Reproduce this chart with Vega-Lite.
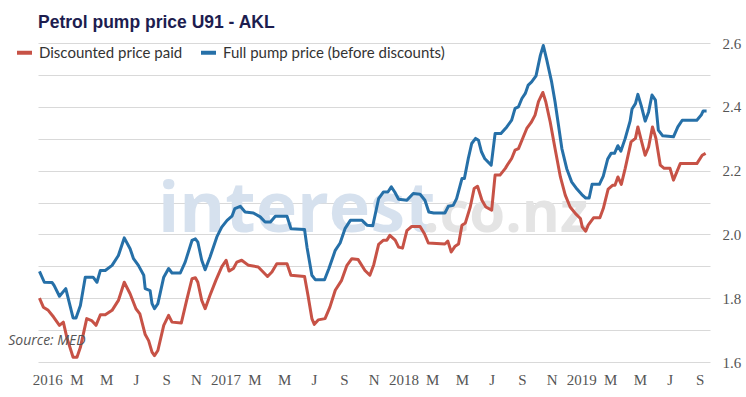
{
  "$schema": "https://vega.github.io/schema/vega-lite/v6.json",
  "width": 672,
  "height": 319,
  "autosize": {"type": "none"},
  "padding": {"left": 38, "top": 43, "right": 36, "bottom": 35},
  "background": "white",
  "config": {"view": {"stroke": null}},
  "title": {"text": "Petrol pump price U91 - AKL", "anchor": "start", "frame": "group", "font": "Liberation Sans", "fontSize": 17.5, "fontWeight": "bold", "color": "#1d1d4f", "offset": 5},
  "datasets": {
    "notes": [
      {"date": "2015-10-13", "value": 1.652, "label": "Source: MED"}
    ],
    "wm1": [{"date": "2016-08-15", "value": 2.007, "label": "interest"}],
    "wm2": [{"date": "2018-02-10", "value": 2.007, "label": ".co.nz"}],
    "prices": [
      {"date": "2015-12-16", "series": "Full pump price (before discounts)", "value": 1.884},
      {"date": "2015-12-26", "series": "Full pump price (before discounts)", "value": 1.85},
      {"date": "2016-01-11", "series": "Full pump price (before discounts)", "value": 1.849},
      {"date": "2016-01-15", "series": "Full pump price (before discounts)", "value": 1.84},
      {"date": "2016-01-26", "series": "Full pump price (before discounts)", "value": 1.806},
      {"date": "2016-02-08", "series": "Full pump price (before discounts)", "value": 1.83},
      {"date": "2016-02-23", "series": "Full pump price (before discounts)", "value": 1.738},
      {"date": "2016-02-29", "series": "Full pump price (before discounts)", "value": 1.738},
      {"date": "2016-03-09", "series": "Full pump price (before discounts)", "value": 1.777},
      {"date": "2016-03-19", "series": "Full pump price (before discounts)", "value": 1.866},
      {"date": "2016-04-04", "series": "Full pump price (before discounts)", "value": 1.866},
      {"date": "2016-04-12", "series": "Full pump price (before discounts)", "value": 1.85},
      {"date": "2016-04-19", "series": "Full pump price (before discounts)", "value": 1.887},
      {"date": "2016-04-29", "series": "Full pump price (before discounts)", "value": 1.887},
      {"date": "2016-05-13", "series": "Full pump price (before discounts)", "value": 1.903},
      {"date": "2016-05-26", "series": "Full pump price (before discounts)", "value": 1.934},
      {"date": "2016-06-07", "series": "Full pump price (before discounts)", "value": 1.989},
      {"date": "2016-06-19", "series": "Full pump price (before discounts)", "value": 1.955},
      {"date": "2016-06-26", "series": "Full pump price (before discounts)", "value": 1.924},
      {"date": "2016-07-06", "series": "Full pump price (before discounts)", "value": 1.903},
      {"date": "2016-07-17", "series": "Full pump price (before discounts)", "value": 1.872},
      {"date": "2016-07-20", "series": "Full pump price (before discounts)", "value": 1.83},
      {"date": "2016-07-30", "series": "Full pump price (before discounts)", "value": 1.824},
      {"date": "2016-08-03", "series": "Full pump price (before discounts)", "value": 1.783},
      {"date": "2016-08-08", "series": "Full pump price (before discounts)", "value": 1.767},
      {"date": "2016-08-15", "series": "Full pump price (before discounts)", "value": 1.783},
      {"date": "2016-08-27", "series": "Full pump price (before discounts)", "value": 1.866},
      {"date": "2016-09-06", "series": "Full pump price (before discounts)", "value": 1.893},
      {"date": "2016-09-13", "series": "Full pump price (before discounts)", "value": 1.879},
      {"date": "2016-09-30", "series": "Full pump price (before discounts)", "value": 1.879},
      {"date": "2016-10-10", "series": "Full pump price (before discounts)", "value": 1.913},
      {"date": "2016-10-24", "series": "Full pump price (before discounts)", "value": 1.981},
      {"date": "2016-10-31", "series": "Full pump price (before discounts)", "value": 1.986},
      {"date": "2016-11-05", "series": "Full pump price (before discounts)", "value": 1.976},
      {"date": "2016-11-13", "series": "Full pump price (before discounts)", "value": 1.919},
      {"date": "2016-11-20", "series": "Full pump price (before discounts)", "value": 1.889},
      {"date": "2016-11-30", "series": "Full pump price (before discounts)", "value": 1.929},
      {"date": "2016-12-14", "series": "Full pump price (before discounts)", "value": 1.992},
      {"date": "2016-12-24", "series": "Full pump price (before discounts)", "value": 2.023},
      {"date": "2017-01-04", "series": "Full pump price (before discounts)", "value": 2.044},
      {"date": "2017-01-14", "series": "Full pump price (before discounts)", "value": 2.057},
      {"date": "2017-01-20", "series": "Full pump price (before discounts)", "value": 2.081},
      {"date": "2017-01-31", "series": "Full pump price (before discounts)", "value": 2.088},
      {"date": "2017-02-10", "series": "Full pump price (before discounts)", "value": 2.07},
      {"date": "2017-02-27", "series": "Full pump price (before discounts)", "value": 2.067},
      {"date": "2017-03-13", "series": "Full pump price (before discounts)", "value": 2.055},
      {"date": "2017-03-23", "series": "Full pump price (before discounts)", "value": 2.039},
      {"date": "2017-04-03", "series": "Full pump price (before discounts)", "value": 2.039},
      {"date": "2017-04-13", "series": "Full pump price (before discounts)", "value": 2.057},
      {"date": "2017-05-07", "series": "Full pump price (before discounts)", "value": 2.057},
      {"date": "2017-05-15", "series": "Full pump price (before discounts)", "value": 2.018},
      {"date": "2017-06-12", "series": "Full pump price (before discounts)", "value": 2.015},
      {"date": "2017-06-17", "series": "Full pump price (before discounts)", "value": 1.96},
      {"date": "2017-06-27", "series": "Full pump price (before discounts)", "value": 1.872},
      {"date": "2017-07-04", "series": "Full pump price (before discounts)", "value": 1.858},
      {"date": "2017-07-23", "series": "Full pump price (before discounts)", "value": 1.858},
      {"date": "2017-08-01", "series": "Full pump price (before discounts)", "value": 1.893},
      {"date": "2017-08-14", "series": "Full pump price (before discounts)", "value": 1.95},
      {"date": "2017-08-24", "series": "Full pump price (before discounts)", "value": 1.973},
      {"date": "2017-09-03", "series": "Full pump price (before discounts)", "value": 2.018},
      {"date": "2017-09-14", "series": "Full pump price (before discounts)", "value": 2.044},
      {"date": "2017-10-08", "series": "Full pump price (before discounts)", "value": 2.044},
      {"date": "2017-10-18", "series": "Full pump price (before discounts)", "value": 2.029},
      {"date": "2017-10-30", "series": "Full pump price (before discounts)", "value": 2.027},
      {"date": "2017-11-11", "series": "Full pump price (before discounts)", "value": 2.112},
      {"date": "2017-11-21", "series": "Full pump price (before discounts)", "value": 2.133},
      {"date": "2017-11-30", "series": "Full pump price (before discounts)", "value": 2.133},
      {"date": "2017-12-07", "series": "Full pump price (before discounts)", "value": 2.149},
      {"date": "2017-12-14", "series": "Full pump price (before discounts)", "value": 2.133},
      {"date": "2017-12-22", "series": "Full pump price (before discounts)", "value": 2.11},
      {"date": "2018-01-08", "series": "Full pump price (before discounts)", "value": 2.107},
      {"date": "2018-01-21", "series": "Full pump price (before discounts)", "value": 2.128},
      {"date": "2018-02-04", "series": "Full pump price (before discounts)", "value": 2.126},
      {"date": "2018-02-14", "series": "Full pump price (before discounts)", "value": 2.107},
      {"date": "2018-02-22", "series": "Full pump price (before discounts)", "value": 2.07},
      {"date": "2018-03-04", "series": "Full pump price (before discounts)", "value": 2.067},
      {"date": "2018-03-27", "series": "Full pump price (before discounts)", "value": 2.067},
      {"date": "2018-04-03", "series": "Full pump price (before discounts)", "value": 2.088},
      {"date": "2018-04-13", "series": "Full pump price (before discounts)", "value": 2.091},
      {"date": "2018-04-20", "series": "Full pump price (before discounts)", "value": 2.112},
      {"date": "2018-05-01", "series": "Full pump price (before discounts)", "value": 2.175},
      {"date": "2018-05-06", "series": "Full pump price (before discounts)", "value": 2.175},
      {"date": "2018-05-14", "series": "Full pump price (before discounts)", "value": 2.238},
      {"date": "2018-05-21", "series": "Full pump price (before discounts)", "value": 2.285},
      {"date": "2018-05-29", "series": "Full pump price (before discounts)", "value": 2.301},
      {"date": "2018-06-04", "series": "Full pump price (before discounts)", "value": 2.295},
      {"date": "2018-06-10", "series": "Full pump price (before discounts)", "value": 2.259},
      {"date": "2018-06-17", "series": "Full pump price (before discounts)", "value": 2.237},
      {"date": "2018-06-30", "series": "Full pump price (before discounts)", "value": 2.217},
      {"date": "2018-07-08", "series": "Full pump price (before discounts)", "value": 2.316},
      {"date": "2018-07-20", "series": "Full pump price (before discounts)", "value": 2.316},
      {"date": "2018-08-01", "series": "Full pump price (before discounts)", "value": 2.337},
      {"date": "2018-08-11", "series": "Full pump price (before discounts)", "value": 2.358},
      {"date": "2018-08-18", "series": "Full pump price (before discounts)", "value": 2.395},
      {"date": "2018-08-25", "series": "Full pump price (before discounts)", "value": 2.4},
      {"date": "2018-09-01", "series": "Full pump price (before discounts)", "value": 2.426},
      {"date": "2018-09-08", "series": "Full pump price (before discounts)", "value": 2.442},
      {"date": "2018-09-14", "series": "Full pump price (before discounts)", "value": 2.468},
      {"date": "2018-09-21", "series": "Full pump price (before discounts)", "value": 2.478},
      {"date": "2018-09-30", "series": "Full pump price (before discounts)", "value": 2.497},
      {"date": "2018-10-09", "series": "Full pump price (before discounts)", "value": 2.562},
      {"date": "2018-10-15", "series": "Full pump price (before discounts)", "value": 2.592},
      {"date": "2018-10-22", "series": "Full pump price (before discounts)", "value": 2.547},
      {"date": "2018-11-01", "series": "Full pump price (before discounts)", "value": 2.478},
      {"date": "2018-11-08", "series": "Full pump price (before discounts)", "value": 2.416},
      {"date": "2018-11-15", "series": "Full pump price (before discounts)", "value": 2.343},
      {"date": "2018-11-22", "series": "Full pump price (before discounts)", "value": 2.269},
      {"date": "2018-12-02", "series": "Full pump price (before discounts)", "value": 2.206},
      {"date": "2018-12-12", "series": "Full pump price (before discounts)", "value": 2.165},
      {"date": "2018-12-23", "series": "Full pump price (before discounts)", "value": 2.142},
      {"date": "2019-01-02", "series": "Full pump price (before discounts)", "value": 2.125},
      {"date": "2019-01-10", "series": "Full pump price (before discounts)", "value": 2.114},
      {"date": "2019-01-17", "series": "Full pump price (before discounts)", "value": 2.114},
      {"date": "2019-01-23", "series": "Full pump price (before discounts)", "value": 2.157},
      {"date": "2019-02-07", "series": "Full pump price (before discounts)", "value": 2.157},
      {"date": "2019-02-15", "series": "Full pump price (before discounts)", "value": 2.183},
      {"date": "2019-02-24", "series": "Full pump price (before discounts)", "value": 2.236},
      {"date": "2019-03-03", "series": "Full pump price (before discounts)", "value": 2.254},
      {"date": "2019-03-10", "series": "Full pump price (before discounts)", "value": 2.254},
      {"date": "2019-03-17", "series": "Full pump price (before discounts)", "value": 2.278},
      {"date": "2019-03-23", "series": "Full pump price (before discounts)", "value": 2.261},
      {"date": "2019-04-01", "series": "Full pump price (before discounts)", "value": 2.301},
      {"date": "2019-04-11", "series": "Full pump price (before discounts)", "value": 2.355},
      {"date": "2019-04-15", "series": "Full pump price (before discounts)", "value": 2.393},
      {"date": "2019-04-22", "series": "Full pump price (before discounts)", "value": 2.41},
      {"date": "2019-04-27", "series": "Full pump price (before discounts)", "value": 2.439},
      {"date": "2019-05-04", "series": "Full pump price (before discounts)", "value": 2.403},
      {"date": "2019-05-12", "series": "Full pump price (before discounts)", "value": 2.355},
      {"date": "2019-05-19", "series": "Full pump price (before discounts)", "value": 2.384},
      {"date": "2019-05-26", "series": "Full pump price (before discounts)", "value": 2.437},
      {"date": "2019-06-02", "series": "Full pump price (before discounts)", "value": 2.421},
      {"date": "2019-06-08", "series": "Full pump price (before discounts)", "value": 2.327},
      {"date": "2019-06-17", "series": "Full pump price (before discounts)", "value": 2.309},
      {"date": "2019-07-09", "series": "Full pump price (before discounts)", "value": 2.306},
      {"date": "2019-07-18", "series": "Full pump price (before discounts)", "value": 2.337},
      {"date": "2019-07-27", "series": "Full pump price (before discounts)", "value": 2.358},
      {"date": "2019-08-26", "series": "Full pump price (before discounts)", "value": 2.358},
      {"date": "2019-09-04", "series": "Full pump price (before discounts)", "value": 2.374},
      {"date": "2019-09-08", "series": "Full pump price (before discounts)", "value": 2.387},
      {"date": "2019-09-15", "series": "Full pump price (before discounts)", "value": 2.387},
      {"date": "2015-12-16", "series": "Discounted price paid", "value": 1.8},
      {"date": "2015-12-24", "series": "Discounted price paid", "value": 1.772},
      {"date": "2016-01-03", "series": "Discounted price paid", "value": 1.762},
      {"date": "2016-01-14", "series": "Discounted price paid", "value": 1.741},
      {"date": "2016-01-26", "series": "Discounted price paid", "value": 1.715},
      {"date": "2016-02-03", "series": "Discounted price paid", "value": 1.725},
      {"date": "2016-02-10", "series": "Discounted price paid", "value": 1.678},
      {"date": "2016-02-23", "series": "Discounted price paid", "value": 1.615},
      {"date": "2016-03-02", "series": "Discounted price paid", "value": 1.615},
      {"date": "2016-03-09", "series": "Discounted price paid", "value": 1.646},
      {"date": "2016-03-22", "series": "Discounted price paid", "value": 1.736},
      {"date": "2016-04-01", "series": "Discounted price paid", "value": 1.73},
      {"date": "2016-04-10", "series": "Discounted price paid", "value": 1.715},
      {"date": "2016-04-19", "series": "Discounted price paid", "value": 1.748},
      {"date": "2016-04-29", "series": "Discounted price paid", "value": 1.748},
      {"date": "2016-05-13", "series": "Discounted price paid", "value": 1.762},
      {"date": "2016-05-26", "series": "Discounted price paid", "value": 1.793},
      {"date": "2016-06-07", "series": "Discounted price paid", "value": 1.85},
      {"date": "2016-06-19", "series": "Discounted price paid", "value": 1.814},
      {"date": "2016-07-01", "series": "Discounted price paid", "value": 1.767},
      {"date": "2016-07-09", "series": "Discounted price paid", "value": 1.751},
      {"date": "2016-07-20", "series": "Discounted price paid", "value": 1.686},
      {"date": "2016-07-27", "series": "Discounted price paid", "value": 1.667},
      {"date": "2016-08-03", "series": "Discounted price paid", "value": 1.631},
      {"date": "2016-08-08", "series": "Discounted price paid", "value": 1.62},
      {"date": "2016-08-15", "series": "Discounted price paid", "value": 1.636},
      {"date": "2016-08-27", "series": "Discounted price paid", "value": 1.715},
      {"date": "2016-09-06", "series": "Discounted price paid", "value": 1.746},
      {"date": "2016-09-13", "series": "Discounted price paid", "value": 1.725},
      {"date": "2016-10-02", "series": "Discounted price paid", "value": 1.722},
      {"date": "2016-10-13", "series": "Discounted price paid", "value": 1.793},
      {"date": "2016-10-24", "series": "Discounted price paid", "value": 1.861},
      {"date": "2016-10-31", "series": "Discounted price paid", "value": 1.864},
      {"date": "2016-11-05", "series": "Discounted price paid", "value": 1.85},
      {"date": "2016-11-13", "series": "Discounted price paid", "value": 1.793},
      {"date": "2016-11-20", "series": "Discounted price paid", "value": 1.767},
      {"date": "2016-11-30", "series": "Discounted price paid", "value": 1.809},
      {"date": "2016-12-12", "series": "Discounted price paid", "value": 1.856},
      {"date": "2016-12-24", "series": "Discounted price paid", "value": 1.898},
      {"date": "2017-01-02", "series": "Discounted price paid", "value": 1.919},
      {"date": "2017-01-08", "series": "Discounted price paid", "value": 1.885},
      {"date": "2017-01-17", "series": "Discounted price paid", "value": 1.893},
      {"date": "2017-01-24", "series": "Discounted price paid", "value": 1.913},
      {"date": "2017-02-03", "series": "Discounted price paid", "value": 1.919},
      {"date": "2017-02-17", "series": "Discounted price paid", "value": 1.903},
      {"date": "2017-03-09", "series": "Discounted price paid", "value": 1.898},
      {"date": "2017-03-16", "series": "Discounted price paid", "value": 1.887},
      {"date": "2017-03-28", "series": "Discounted price paid", "value": 1.868},
      {"date": "2017-04-06", "series": "Discounted price paid", "value": 1.882},
      {"date": "2017-04-16", "series": "Discounted price paid", "value": 1.908},
      {"date": "2017-05-07", "series": "Discounted price paid", "value": 1.908},
      {"date": "2017-05-15", "series": "Discounted price paid", "value": 1.872},
      {"date": "2017-06-12", "series": "Discounted price paid", "value": 1.868},
      {"date": "2017-06-19", "series": "Discounted price paid", "value": 1.809},
      {"date": "2017-06-27", "series": "Discounted price paid", "value": 1.736},
      {"date": "2017-07-02", "series": "Discounted price paid", "value": 1.718},
      {"date": "2017-07-10", "series": "Discounted price paid", "value": 1.732},
      {"date": "2017-07-24", "series": "Discounted price paid", "value": 1.736},
      {"date": "2017-08-03", "series": "Discounted price paid", "value": 1.772},
      {"date": "2017-08-14", "series": "Discounted price paid", "value": 1.825},
      {"date": "2017-08-27", "series": "Discounted price paid", "value": 1.856},
      {"date": "2017-09-07", "series": "Discounted price paid", "value": 1.903},
      {"date": "2017-09-17", "series": "Discounted price paid", "value": 1.924},
      {"date": "2017-09-30", "series": "Discounted price paid", "value": 1.921},
      {"date": "2017-10-14", "series": "Discounted price paid", "value": 1.887},
      {"date": "2017-10-24", "series": "Discounted price paid", "value": 1.872},
      {"date": "2017-11-01", "series": "Discounted price paid", "value": 1.905},
      {"date": "2017-11-11", "series": "Discounted price paid", "value": 1.969},
      {"date": "2017-11-21", "series": "Discounted price paid", "value": 1.982},
      {"date": "2017-11-28", "series": "Discounted price paid", "value": 1.982},
      {"date": "2017-12-04", "series": "Discounted price paid", "value": 1.997},
      {"date": "2017-12-15", "series": "Discounted price paid", "value": 1.982},
      {"date": "2017-12-22", "series": "Discounted price paid", "value": 1.96},
      {"date": "2017-12-30", "series": "Discounted price paid", "value": 1.957},
      {"date": "2018-01-08", "series": "Discounted price paid", "value": 2.012},
      {"date": "2018-01-18", "series": "Discounted price paid", "value": 2.025},
      {"date": "2018-02-04", "series": "Discounted price paid", "value": 2.025},
      {"date": "2018-02-13", "series": "Discounted price paid", "value": 2.002},
      {"date": "2018-02-21", "series": "Discounted price paid", "value": 1.973},
      {"date": "2018-03-27", "series": "Discounted price paid", "value": 1.97},
      {"date": "2018-04-02", "series": "Discounted price paid", "value": 1.979},
      {"date": "2018-04-09", "series": "Discounted price paid", "value": 1.945},
      {"date": "2018-04-17", "series": "Discounted price paid", "value": 1.963},
      {"date": "2018-04-24", "series": "Discounted price paid", "value": 1.97},
      {"date": "2018-05-01", "series": "Discounted price paid", "value": 2.029},
      {"date": "2018-05-08", "series": "Discounted price paid", "value": 2.036},
      {"date": "2018-05-18", "series": "Discounted price paid", "value": 2.086},
      {"date": "2018-05-26", "series": "Discounted price paid", "value": 2.144},
      {"date": "2018-06-02", "series": "Discounted price paid", "value": 2.151},
      {"date": "2018-06-11", "series": "Discounted price paid", "value": 2.107},
      {"date": "2018-06-19", "series": "Discounted price paid", "value": 2.086},
      {"date": "2018-07-01", "series": "Discounted price paid", "value": 2.076},
      {"date": "2018-07-08", "series": "Discounted price paid", "value": 2.186},
      {"date": "2018-07-18", "series": "Discounted price paid", "value": 2.186},
      {"date": "2018-07-29", "series": "Discounted price paid", "value": 2.207},
      {"date": "2018-08-04", "series": "Discounted price paid", "value": 2.222},
      {"date": "2018-08-11", "series": "Discounted price paid", "value": 2.238},
      {"date": "2018-08-18", "series": "Discounted price paid", "value": 2.264},
      {"date": "2018-08-25", "series": "Discounted price paid", "value": 2.269},
      {"date": "2018-09-04", "series": "Discounted price paid", "value": 2.306},
      {"date": "2018-09-11", "series": "Discounted price paid", "value": 2.332},
      {"date": "2018-09-20", "series": "Discounted price paid", "value": 2.351},
      {"date": "2018-09-28", "series": "Discounted price paid", "value": 2.374},
      {"date": "2018-10-05", "series": "Discounted price paid", "value": 2.416},
      {"date": "2018-10-14", "series": "Discounted price paid", "value": 2.445},
      {"date": "2018-10-20", "series": "Discounted price paid", "value": 2.416},
      {"date": "2018-10-29", "series": "Discounted price paid", "value": 2.353},
      {"date": "2018-11-08", "series": "Discounted price paid", "value": 2.269},
      {"date": "2018-11-19", "series": "Discounted price paid", "value": 2.18},
      {"date": "2018-11-29", "series": "Discounted price paid", "value": 2.123},
      {"date": "2018-12-09", "series": "Discounted price paid", "value": 2.086},
      {"date": "2018-12-20", "series": "Discounted price paid", "value": 2.065},
      {"date": "2018-12-30", "series": "Discounted price paid", "value": 2.05},
      {"date": "2019-01-03", "series": "Discounted price paid", "value": 2.023},
      {"date": "2019-01-10", "series": "Discounted price paid", "value": 2.01},
      {"date": "2019-01-15", "series": "Discounted price paid", "value": 2.029},
      {"date": "2019-01-26", "series": "Discounted price paid", "value": 2.052},
      {"date": "2019-02-08", "series": "Discounted price paid", "value": 2.052},
      {"date": "2019-02-15", "series": "Discounted price paid", "value": 2.081},
      {"date": "2019-02-25", "series": "Discounted price paid", "value": 2.142},
      {"date": "2019-03-06", "series": "Discounted price paid", "value": 2.154},
      {"date": "2019-03-11", "series": "Discounted price paid", "value": 2.154},
      {"date": "2019-03-17", "series": "Discounted price paid", "value": 2.18},
      {"date": "2019-03-24", "series": "Discounted price paid", "value": 2.157},
      {"date": "2019-04-01", "series": "Discounted price paid", "value": 2.207},
      {"date": "2019-04-13", "series": "Discounted price paid", "value": 2.29},
      {"date": "2019-04-22", "series": "Discounted price paid", "value": 2.301},
      {"date": "2019-04-27", "series": "Discounted price paid", "value": 2.337},
      {"date": "2019-05-04", "series": "Discounted price paid", "value": 2.295},
      {"date": "2019-05-12", "series": "Discounted price paid", "value": 2.248},
      {"date": "2019-05-19", "series": "Discounted price paid", "value": 2.274},
      {"date": "2019-05-27", "series": "Discounted price paid", "value": 2.337},
      {"date": "2019-06-03", "series": "Discounted price paid", "value": 2.301},
      {"date": "2019-06-12", "series": "Discounted price paid", "value": 2.217},
      {"date": "2019-06-20", "series": "Discounted price paid", "value": 2.207},
      {"date": "2019-07-02", "series": "Discounted price paid", "value": 2.207},
      {"date": "2019-07-09", "series": "Discounted price paid", "value": 2.17},
      {"date": "2019-07-23", "series": "Discounted price paid", "value": 2.222},
      {"date": "2019-08-26", "series": "Discounted price paid", "value": 2.222},
      {"date": "2019-09-06", "series": "Discounted price paid", "value": 2.248},
      {"date": "2019-09-13", "series": "Discounted price paid", "value": 2.254}
    ]
  },
  "encoding": {
    "x": {
      "field": "date", "type": "temporal", "title": null,
      "scale": {"domain": [{"year": 2015, "month": 12, "date": 13}, {"year": 2019, "month": 9, "date": 22}]},
      "axis": {
        "tickCount": {"interval": "month", "step": 2},
        "labelExpr": "month(datum.value) == 0 ? timeFormat(datum.value, '%Y') : slice(timeFormat(datum.value, '%b'), 0, 1)",
        "grid": false, "domain": false, "ticks": false,
        "labelFont": "Liberation Sans Narrow", "labelFontSize": 15, "labelColor": "#555555",
        "labelPadding": 10, "labelFlush": false, "labelOverlap": false
      }
    },
    "y": {
      "field": "value", "type": "quantitative", "title": null,
      "scale": {"domain": [1.6, 2.6], "zero": false, "nice": false},
      "axis": {
        "orient": "right",
        "values": [1.6, 1.7, 1.8, 1.9, 2.0, 2.1, 2.2, 2.3, 2.4, 2.5, 2.6],
        "labelExpr": "round(datum.value * 10) % 2 == 0 ? format(datum.value, '.1f') : ''",
        "grid": true, "gridColor": "#d9d9d9", "gridWidth": 1,
        "domain": false, "ticks": false,
        "labelFont": "Liberation Sans Narrow", "labelFontSize": 15, "labelColor": "#555555",
        "labelPadding": 12
      }
    }
  },
  "layer": [
    {
      "data": {"name": "wm1"},
      "mark": {"type": "text", "align": "left", "baseline": "alphabetic", "font": "Open Sans", "fontWeight": "bold", "fontSize": 70, "color": "#d6e1ee"},
      "encoding": {"text": {"field": "label"}}
    },
    {
      "data": {"name": "wm2"},
      "mark": {"type": "text", "align": "left", "baseline": "alphabetic", "font": "Open Sans", "fontWeight": "bold", "fontSize": 58, "color": "#e4e4e4"},
      "encoding": {"text": {"field": "label"}}
    },
    {
      "data": {"name": "prices"},
      "mark": {"type": "line", "strokeWidth": 3, "strokeJoin": "round"},
      "encoding": {
        "color": {
          "field": "series", "type": "nominal",
          "scale": {"domain": ["Discounted price paid", "Full pump price (before discounts)"], "range": ["#c75246", "#2670a8"]},
          "legend": {
            "orient": "none", "legendX": -23, "legendY": 0, "direction": "horizontal", "title": null,
            "symbolType": "stroke", "symbolSize": 225, "symbolStrokeWidth": 4,
            "labelFont": "Lato", "labelFontSize": 15, "labelColor": "#333333", "labelOffset": 5,
            "labelLimit": 400, "columnPadding": 10, "padding": 0
          }
        }
      }
    },
    {
      "data": {"name": "notes"},
      "mark": {"type": "text", "align": "left", "baseline": "alphabetic", "font": "Open Sans", "fontStyle": "italic", "fontSize": 14, "color": "#555555"},
      "encoding": {"text": {"field": "label"}}
    }
  ]
}
